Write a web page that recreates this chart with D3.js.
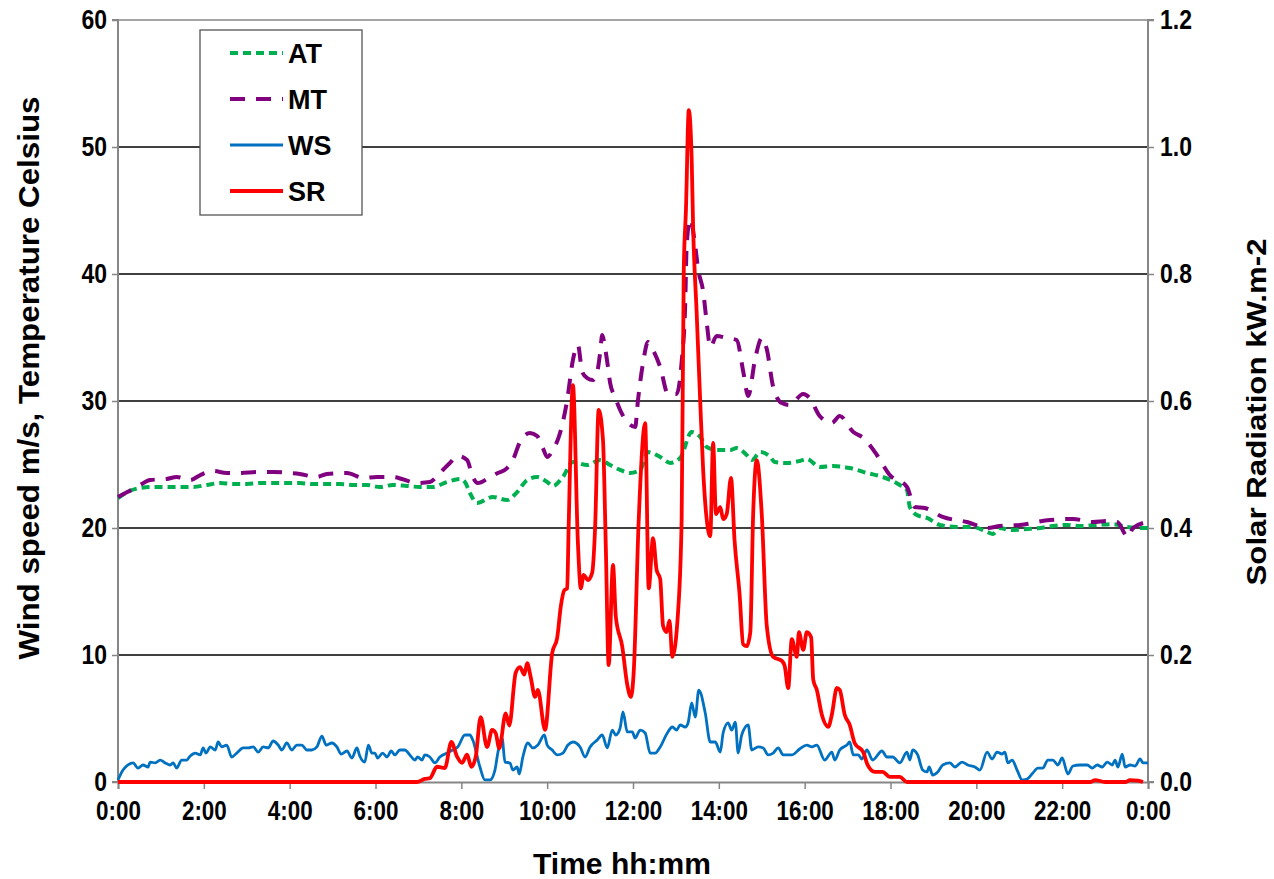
<!DOCTYPE html>
<html><head><meta charset="utf-8">
<script src="https://cdn.jsdelivr.net/npm/d3@7"></script>
<style>
body{margin:0;background:#fff;}
svg text{font-family:"Liberation Sans",Arial,sans-serif;font-weight:bold;fill:#000;}
</style>
</head><body>
<svg id="chart" width="1274" height="879"></svg>
<script>
// ---------- DATA (time in minutes after midnight) ----------
const xTickMinutes = [0,120,240,360,480,600,720,840,960,1080,1200,1320,1440];
const leftTicks = [0,10,20,30,40,50,60];
const rightTicks = [0,0.2,0.4,0.6,0.8,1.0,1.2];
const seriesNames = ["AT","MT","WS","SR"];

// AT: air temperature (Celsius)
const atTime = [0,13,31,49,68,87,105,124,143,161,180,199,217,236,254,273,292,310,329,348,366,384,404,422,440,460,478,485,492,502,524,544,558,572,586,600,608,622,636,656,674,688,702,716,730,741,758,772,786,802,814,823,837,856,865,879,886,898,912,918,935,953,963,981,1000,1023,1047,1069,1093,1103,1107,1117,1131,1149,1173,1195,1215,1223,1233,1247,1271,1289,1307,1327,1345,1369,1391,1411,1429,1440];
const atVal = [22.36,22.83,23.15,23.23,23.23,23.23,23.23,23.39,23.54,23.46,23.46,23.54,23.54,23.54,23.54,23.46,23.46,23.46,23.39,23.39,23.23,23.39,23.31,23.23,23.23,23.62,23.86,23.62,22.76,21.97,22.44,22.20,22.83,23.78,24.02,23.62,23.31,24.02,25.20,24.96,25.35,24.96,24.57,24.33,24.57,25.98,25.59,25.12,25.51,27.56,27.17,26.38,26.14,26.14,26.30,25.75,25.35,25.98,25.59,25.20,25.12,25.28,25.43,24.80,24.88,24.72,24.33,24.02,23.39,22.99,21.65,21.02,20.79,20.24,20.08,20.08,19.69,19.53,20.00,19.84,19.92,20.00,20.16,20.24,20.16,20.24,20.31,20.08,20.00,20.00];

// MT: module temperature (Celsius)
const mtTime = [0,13,31,45,68,82,101,115,133,152,171,194,217,240,254,278,292,320,343,362,384,418,436,450,464,475,488,496,503,520,531,544,552,562,576,586,594,600,608,618,628,636,643,649,656,664,670,674,677,681,685,688,695,702,712,723,727,734,741,748,758,769,781,788,793,795,800,807,811,818,823,828,837,851,865,874,881,891,900,907,916,928,939,958,967,981,998,1009,1028,1042,1061,1079,1103,1114,1128,1153,1187,1215,1233,1261,1303,1335,1363,1383,1397,1412,1419,1439];
const mtVal = [22.44,22.83,23.39,23.78,23.86,24.02,23.78,24.17,24.49,24.33,24.33,24.41,24.41,24.33,24.25,24.02,24.25,24.33,23.94,24.02,24.02,23.54,23.62,24.33,25.12,25.67,25.35,24.02,23.54,24.02,24.33,24.72,25.35,26.77,27.48,27.24,26.30,25.59,26.14,27.48,30.08,33.23,34.41,32.28,31.81,31.65,32.28,33.78,35.20,34.17,32.68,31.42,30.31,29.29,28.35,27.95,30.08,32.99,34.65,34.02,32.68,30.55,30.55,33.07,37.64,42.20,44.33,42.20,40.39,38.66,36.22,34.25,35.12,34.96,34.80,32.36,30.39,33.39,34.96,34.09,31.10,29.84,29.69,30.55,30.24,28.82,28.27,28.82,27.56,27.09,25.75,24.17,23.23,21.65,21.57,20.87,20.47,20.00,20.16,20.24,20.63,20.71,20.47,20.55,20.47,19.29,20.00,20.47];

// WS: wind speed (m/s)
const wsTime = [0,7,14,21,28,35,42,45,52,59,66,73,77,82,89,96,101,108,115,119,123,129,136,140,145,152,159,166,175,182,189,196,203,210,217,224,229,236,243,250,257,264,271,278,285,291,299,306,312,320,327,334,338,345,350,355,359,363,370,376,382,387,394,401,408,415,419,425,429,436,443,450,460,468,475,485,492,496,506,513,520,527,531,537,541,548,552,558,561,566,573,580,587,596,600,607,614,622,629,636,646,653,660,670,677,684,691,696,702,706,712,719,723,730,737,744,751,758,768,775,781,786,793,797,802,807,812,821,828,835,842,846,853,858,863,867,872,881,886,895,902,909,916,923,930,942,953,963,970,977,988,998,1002,1009,1019,1023,1028,1035,1040,1047,1055,1068,1075,1083,1093,1103,1107,1111,1118,1125,1131,1134,1139,1146,1153,1163,1170,1180,1188,1198,1205,1215,1222,1229,1236,1240,1244,1250,1257,1264,1271,1279,1286,1293,1300,1307,1314,1320,1328,1335,1345,1355,1362,1369,1376,1383,1390,1394,1398,1404,1408,1415,1422,1429,1433,1440];
const wsVal = [0.16,0.94,1.34,1.50,1.10,1.34,1.18,1.57,1.50,1.73,1.50,1.34,1.50,1.10,1.73,1.73,2.05,2.28,2.13,2.68,2.28,2.76,2.52,3.15,2.76,2.91,1.97,2.28,2.68,2.68,2.76,2.36,2.76,2.68,3.23,2.91,2.52,3.07,2.52,2.91,2.91,2.52,2.52,2.76,3.62,2.91,3.07,2.76,2.20,2.44,1.89,2.68,2.05,1.57,2.91,2.28,2.28,1.89,2.28,1.97,2.44,2.13,2.52,2.52,2.13,1.73,1.97,1.73,2.13,1.97,1.50,1.97,2.28,2.52,2.76,3.70,3.70,3.31,1.18,0.16,0.16,0.94,2.28,3.46,1.57,1.50,0.94,1.18,0.63,1.97,3.07,2.68,2.91,3.70,2.91,2.52,2.13,2.28,2.91,3.15,2.76,1.97,2.76,3.31,3.70,2.68,4.09,3.70,4.25,5.51,3.94,3.94,3.46,4.09,3.86,2.28,2.28,2.76,3.86,4.33,4.09,4.49,4.33,4.65,6.22,5.12,7.24,5.43,3.15,3.15,2.36,3.86,4.65,4.09,4.72,2.28,3.70,4.49,2.52,2.76,2.68,2.13,2.28,2.68,2.13,2.13,2.60,2.91,2.76,2.91,1.73,2.36,1.73,2.52,2.91,3.15,2.13,2.13,1.81,2.52,1.73,2.44,1.97,1.97,1.50,2.36,1.73,2.52,2.13,0.94,0.79,1.18,0.55,0.79,1.34,1.50,1.18,1.57,1.34,1.18,0.94,2.36,1.81,2.36,2.20,2.36,1.50,1.73,0.94,0.16,0.24,0.71,1.10,1.10,1.73,1.73,1.34,1.89,0.63,1.26,1.34,1.34,1.10,1.34,1.18,1.57,1.34,1.73,1.18,2.20,1.18,1.34,1.26,1.81,1.50,1.50];

// SR: solar radiation (kW.m-2), right axis
const srTime = [0,418,429,436,446,457,466,474,481,488,494,500,507,516,523,528,533,542,547,556,562,568,572,577,583,587,597,607,614,619,624,628,630,636,643,647,651,657,663,667,672,678,682,686,692,696,705,712,717,721,728,737,742,748,753,758,762,767,771,775,783,788,791,794,798,802,804,809,814,818,823,828,832,836,842,846,851,857,862,869,874,879,884,888,893,900,907,916,928,932,937,942,949,952,958,963,969,972,977,984,993,998,1005,1009,1016,1023,1030,1042,1048,1058,1069,1079,1093,1103,1359,1366,1380,1408,1415,1426,1433];
const srVal = [0,0,0.005,0.006,0.024,0.022,0.063,0.040,0.030,0.043,0.024,0.039,0.102,0.055,0.082,0.077,0.053,0.108,0.089,0.172,0.181,0.169,0.187,0.165,0.134,0.145,0.082,0.203,0.227,0.276,0.302,0.305,0.40,0.625,0.376,0.305,0.326,0.318,0.33,0.40,0.586,0.539,0.37,0.184,0.342,0.26,0.213,0.153,0.134,0.173,0.413,0.565,0.305,0.384,0.334,0.32,0.246,0.236,0.254,0.197,0.268,0.413,0.808,0.90,1.058,0.982,0.877,0.739,0.598,0.493,0.414,0.387,0.534,0.422,0.433,0.414,0.422,0.479,0.380,0.296,0.217,0.214,0.236,0.422,0.507,0.422,0.246,0.197,0.191,0.183,0.148,0.225,0.197,0.236,0.208,0.236,0.228,0.161,0.145,0.106,0.087,0.106,0.148,0.145,0.106,0.09,0.061,0.047,0.027,0.016,0.016,0.008,0.008,0,0,0.003,0,0,0.003,0.002,0];

// ---------- CHART ----------
const svg = d3.select("#chart");
const L = 118, R = 1148, T = 20, B = 782;
const x = d3.scaleLinear().domain([0,1440]).range([L,R]);
const yL = d3.scaleLinear().domain([0,60]).range([B,T]);
const yR = d3.scaleLinear().domain([0,1.2]).range([B,T]);
const axisGrey = "#868686";

function zip(t,v){ return t.map((d,i)=>({t:d,v:v[i]})); }

// horizontal gridlines
svg.append("g").selectAll("line").data(leftTicks.filter(d=>d>0 && d<60)).join("line")
  .attr("x1",L).attr("x2",R).attr("y1",d=>yL(d)).attr("y2",d=>yL(d))
  .attr("stroke","#000").attr("stroke-width",1.3);
// top border
svg.append("line").attr("x1",L).attr("x2",R).attr("y1",yL(60)).attr("y2",yL(60))
  .attr("stroke",axisGrey).attr("stroke-width",1.5);

function fmtTime(m){ const h=Math.floor(m/60)%24, mm=m%60; return h+":"+String(mm).padStart(2,"0"); }

const gx = svg.append("g").attr("transform",`translate(0,${B})`)
  .call(d3.axisBottom(x).tickValues(xTickMinutes).tickFormat(fmtTime).tickSize(7).tickPadding(11));
const gl = svg.append("g").attr("transform",`translate(${L},0)`)
  .call(d3.axisLeft(yL).tickValues(leftTicks).tickFormat(d3.format("d")).tickSize(6).tickPadding(5));
const gr = svg.append("g").attr("transform",`translate(${R},0)`)
  .call(d3.axisRight(yR).tickValues(rightTicks).tickFormat(d3.format(".1f")).tickSize(6).tickPadding(6));
[gx,gl,gr].forEach(g=>{
  g.select(".domain").attr("stroke",axisGrey).attr("stroke-width",2);
  g.selectAll(".tick line").attr("stroke",axisGrey).attr("stroke-width",1.5);
  g.selectAll(".tick text").style("font-size","28px").style("font-family","'Liberation Sans',Arial,sans-serif").style("font-weight","bold").attr("fill","#000");
});
gl.select(".domain").attr("d",`M-6,${B}H0V${T}H-6`);
gr.select(".domain").attr("d",`M6,${B}H0V${T}H6`);
// compress tick labels horizontally
function squeeze(sel,f){ sel.each(function(){ const w=this.getComputedTextLength(); d3.select(this).attr("textLength",w*f).attr("lengthAdjust","spacingAndGlyphs"); }); }
squeeze(gx.selectAll(".tick text"),0.8);
squeeze(gl.selectAll(".tick text"),0.82);
squeeze(gr.selectAll(".tick text"),0.82);

// lines
const lineL = d3.line().x(d=>x(d.t)).y(d=>yL(d.v)).curve(d3.curveMonotoneX);
const lineR = d3.line().x(d=>x(d.t)).y(d=>yR(d.v)).curve(d3.curveMonotoneX);
const styles = {
  AT:{color:"#00B050",width:4,dash:"8,5"},
  MT:{color:"#800080",width:4,dash:"15,11"},
  WS:{color:"#0070C0",width:2.8,dash:null},
  SR:{color:"#FF0000",width:3.8,dash:null}
};
const data = {AT:zip(atTime,atVal), MT:zip(mtTime,mtVal), WS:zip(wsTime,wsVal), SR:zip(srTime,srVal)};
seriesNames.forEach(n=>{
  const st = styles[n];
  svg.append("path").datum(data[n])
    .attr("d", n==="SR" ? lineR : lineL)
    .attr("fill","none").attr("stroke",st.color).attr("stroke-width",st.width)
    .attr("stroke-dasharray",st.dash).attr("stroke-linejoin","round");
});

// legend
const lg = svg.append("g");
lg.append("rect").attr("x",200).attr("y",30).attr("width",162).attr("height",185)
  .attr("fill","#fff").attr("stroke","#555").attr("stroke-width",1.3);
const legY = [53,99,145,191];
seriesNames.forEach((n,i)=>{
  const st = styles[n];
  lg.append("line").attr("x1",230).attr("x2",283).attr("y1",legY[i]).attr("y2",legY[i])
    .attr("stroke",st.color).attr("stroke-width",st.width).attr("stroke-dasharray",st.dash);
  lg.append("text").attr("x",288).attr("y",legY[i]+10).text(n).style("font-size","27px");
});

// titles
svg.append("text").attr("x",622).attr("y",874).attr("text-anchor","middle")
  .style("font-size","29px").text("Time hh:mm")
  .attr("textLength",178).attr("lengthAdjust","spacingAndGlyphs");
svg.append("text").attr("transform","translate(39,378) rotate(-90)").attr("text-anchor","middle")
  .style("font-size","29px").text("Wind speed m/s, Temperature Celsius")
  .attr("textLength",563).attr("lengthAdjust","spacingAndGlyphs");
svg.append("text").attr("transform","translate(1266,412) rotate(-90)").attr("text-anchor","middle")
  .style("font-size","28px").text("Solar Radiation kW.m-2")
  .attr("textLength",347).attr("lengthAdjust","spacingAndGlyphs");
</script>
</body></html>
